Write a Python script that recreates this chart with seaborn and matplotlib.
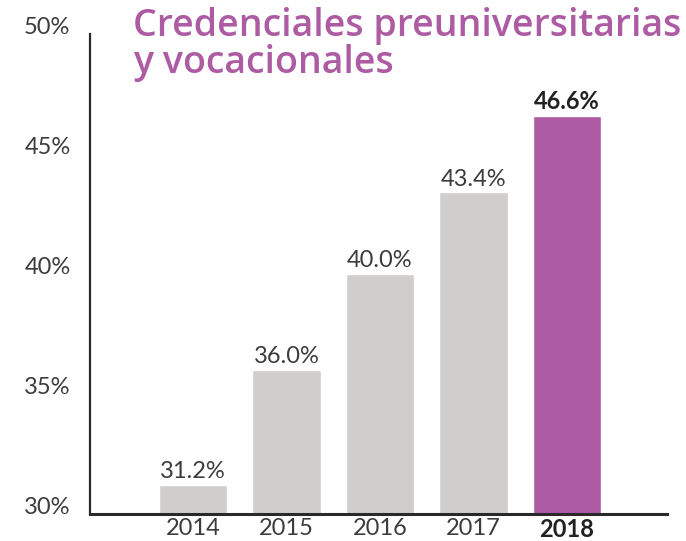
import matplotlib
matplotlib.use("Agg")
import matplotlib.pyplot as plt
import matplotlib.transforms as mtransforms
import pandas as pd
import seaborn as sns

# data
years = ["2014", "2015", "2016", "2017", "2018"]
values = [31.2, 36.0, 40.0, 43.4, 46.6]
bar_colors = ["#cfcecc", "#cfcecc", "#cfcecc", "#cfcecc", "#ad5ba3"]
yticks = [30, 35, 40, 45, 50]

df = pd.DataFrame({"year": years, "value": values})

sns.set_style("white")
plt.rcParams["font.family"] = ["Lato", "DejaVu Sans"]

fig = plt.figure(figsize=(6.86, 5.41), dpi=100)
ax = fig.add_axes([90 / 686, 27 / 541, 577 / 686, 480 / 541])

sns.barplot(data=df, x="year", y="value", hue="year", palette=bar_colors,
            width=0.73, legend=False, ax=ax, saturation=1)

ax.set_ylim(30, 50)
ax.set_xlim(-1.1, 5.07)
ax.set_xlabel("")
ax.set_ylabel("")

txt = "#3c3c3c"
ax.set_yticks(yticks)
ax.set_yticklabels([f"{t}%" for t in yticks], fontsize=17, color=txt)
ax.tick_params(axis="y", length=0, pad=14)
ax.tick_params(axis="x", length=0, pad=3)
# labels sit a bit above their gridline
off = mtransforms.ScaledTranslation(0, 9 / 100, fig.dpi_scale_trans)
for lab in ax.get_yticklabels():
    lab.set_transform(lab.get_transform() + off)

ax.set_xticks(range(len(years)))
ax.set_xticklabels(years, fontsize=17, color=txt)
xl = ax.get_xticklabels()
xl[-1].set_fontweight("bold")
xl[-1].set_color("#222222")

sns.despine(ax=ax, top=True, right=True)
ax.spines["left"].set_color("#2a2a2a")
ax.spines["left"].set_linewidth(1.6)
ax.spines["bottom"].set_color("#2a2a2a")
ax.spines["bottom"].set_linewidth(2.2)

for i, v in enumerate(values):
    last = i == len(values) - 1
    ax.annotate(f"{v:.1f}%", (i, v), xytext=(0, 2), textcoords="offset points",
                ha="center", va="bottom", fontsize=17,
                fontweight="bold" if last else "normal",
                color="#222222" if last else txt)

fig.text(133 / 686, 1 - 7 / 541, "Credenciales preuniversitarias\ny vocacionales",
         ha="left", va="top", fontsize=27, fontweight="semibold", color="#ad5ba3",
         family=["Open Sans", "DejaVu Sans"], linespacing=0.98)

fig.savefig("out.png", dpi=100)
